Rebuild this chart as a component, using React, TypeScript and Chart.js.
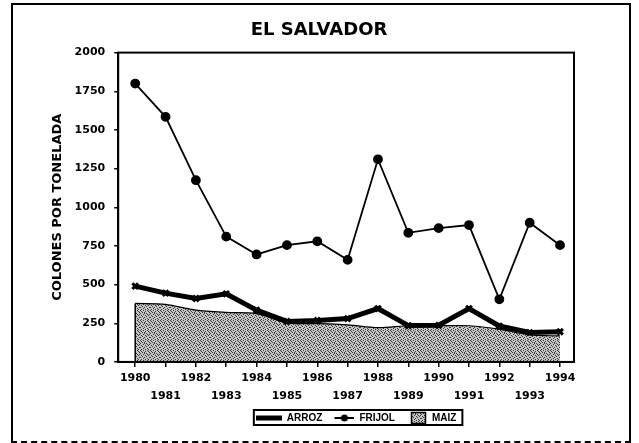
import React, { useEffect, useRef } from 'react';
import { Chart, registerables } from 'chart.js';

Chart.register(...registerables);

const years = [1980, 1981, 1982, 1983, 1984, 1985, 1986, 1987, 1988, 1989, 1990, 1991, 1992, 1993, 1994];
const arroz = [490, 445, 410, 440, 335, 262, 268, 280, 345, 235, 237, 345, 232, 190, 195];
const frijol = [1800, 1585, 1175, 810, 695, 755, 780, 660, 1310, 835, 865, 885, 405, 900, 755];
const maiz = [378, 372, 335, 320, 312, 252, 248, 240, 222, 234, 234, 234, 212, 175, 168];
const seriesNames = ['ARROZ', 'FRIJOL', 'MAIZ'];
const chartTitle = 'EL SALVADOR';
const yTitle = 'COLONES POR TONELADA';

function stippleCanvas(): HTMLCanvasElement {
  const c = document.createElement('canvas');
  c.width = 10;
  c.height = 10;
  const g = c.getContext('2d')!;
  g.fillStyle = '#c4c4c4';
  g.fillRect(0, 0, 10, 10);
  g.fillStyle = '#3a3a3a';
  const dots = [
    [0, 0], [3, 0], [7, 0], [1, 1], [5, 1], [8, 1], [2, 2], [4, 2], [9, 2],
    [0, 3], [6, 3], [3, 4], [7, 4], [1, 5], [5, 5], [8, 5], [2, 6], [6, 6],
    [0, 7], [4, 7], [9, 7], [3, 8], [7, 8], [1, 9], [5, 9], [8, 9], [9, 4], [4, 3],
  ];
  dots.forEach(([x, y]) => g.fillRect(x, y, 1, 1));
  return c;
}

function legendSymbol(kind: string, pattern: CanvasPattern | null): HTMLCanvasElement {
  const c = document.createElement('canvas');
  c.width = 26;
  c.height = 14;
  const g = c.getContext('2d')!;
  g.strokeStyle = '#000';
  g.fillStyle = '#000';
  if (kind === 'ARROZ') {
    g.lineWidth = 5;
    g.beginPath();
    g.moveTo(0, 7);
    g.lineTo(26, 7);
    g.stroke();
  } else if (kind === 'FRIJOL') {
    g.lineWidth = 2;
    g.beginPath();
    g.moveTo(6, 7);
    g.lineTo(26, 7);
    g.stroke();
    g.beginPath();
    g.arc(16, 7, 3.5, 0, Math.PI * 2);
    g.fill();
  } else {
    if (pattern) g.fillStyle = pattern;
    g.fillRect(10, 1, 15, 12);
    g.lineWidth = 1.5;
    g.strokeRect(10.5, 1.5, 14, 11);
  }
  return c;
}

export default function App() {
  const ref = useRef<HTMLCanvasElement | null>(null);

  useEffect(() => {
    const canvas = ref.current;
    if (!canvas) return;
    const ctx = canvas.getContext('2d')!;
    const pattern = ctx.createPattern(stippleCanvas(), 'repeat');
    const symbols = seriesNames.map((n) => legendSymbol(n, pattern));

    const framePlugin = {
      id: 'frame',
      afterDatasetsDraw(chart: any) {
        const c = chart.ctx;
        const meta = chart.getDatasetMeta(2);
        const first = meta.data[0];
        const y0 = chart.scales.y.getPixelForValue(0);
        c.save();
        c.strokeStyle = '#000';
        c.lineWidth = 1.5;
        c.beginPath();
        c.moveTo(first.x, first.y);
        c.lineTo(first.x, y0);
        c.stroke();
        c.restore();
      },
      afterDraw(chart: any) {
        const c = chart.ctx;
        const a = chart.chartArea;
        c.save();
        c.strokeStyle = '#000';
        c.lineWidth = 2;
        c.strokeRect(a.left, a.top, a.right - a.left, a.bottom - a.top);
        const lg = chart.legend;
        if (lg && lg.legendHitBoxes && lg.legendHitBoxes.length) {
          const hb = lg.legendHitBoxes;
          let l = Infinity, r = -Infinity, t = Infinity, b = -Infinity;
          hb.forEach((h: any) => {
            l = Math.min(l, h.left);
            r = Math.max(r, h.left + h.width);
            t = Math.min(t, h.top);
            b = Math.max(b, h.top + h.height);
          });
          c.lineWidth = 2;
          c.strokeRect(l - 2, t - 3, r - l + 8, b - t + 5);
        }
        c.restore();
      },
    };

    const shiftPlugin = {
      id: 'blockShift',
      afterLayout(chart: any) {
        const lg = chart.legend;
        if (lg) {
          lg.left += 10;
          lg.right += 10;
        }
        const tb = chart.titleBlock;
        if (tb) {
          tb.left += 9;
          tb.right += 9;
        }
      },
    };

    const tickFont = { family: 'DejaVu Sans', size: 11, weight: 'bold' as const };

    const chart = new Chart(canvas, {
      type: 'line',
      data: {
        datasets: [
          {
            label: seriesNames[0],
            data: years.map((x, i) => ({ x, y: arroz[i] })),
            borderColor: '#000',
            backgroundColor: '#000',
            borderWidth: 5,
            pointStyle: 'crossRot',
            pointRadius: 4,
            pointBorderWidth: 3,
            pointBorderColor: '#000',
            fill: false,
            tension: 0,
          },
          {
            label: seriesNames[1],
            data: years.map((x, i) => ({ x, y: frijol[i] })),
            borderColor: '#000',
            backgroundColor: '#000',
            borderWidth: 1.8,
            pointStyle: 'circle',
            pointRadius: 4,
            pointBackgroundColor: '#000',
            pointBorderColor: '#000',
            fill: false,
            tension: 0,
          },
          {
            label: seriesNames[2],
            data: years.map((x, i) => ({ x, y: maiz[i] })),
            borderColor: '#000',
            backgroundColor: pattern || '#aaa',
            borderWidth: 1.2,
            pointRadius: 0,
            fill: 'origin',
            tension: 0.3,
          },
        ],
      },
      options: {
        responsive: false,
        animation: false,
        devicePixelRatio: 1,
        layout: { padding: { left: 46, right: 65, top: 0, bottom: 10 } },
        plugins: {
          tooltip: { enabled: false },
          title: {
            display: true,
            text: chartTitle,
            color: '#000',
            font: { family: 'DejaVu Sans', size: 18, weight: 'bold' },
            padding: { top: 20, bottom: 11 },
          },
          legend: {
            display: true,
            position: 'bottom',
            fullSize: false,
            labels: {
              usePointStyle: true,
              pointStyleWidth: 26,
              padding: 6,
              color: '#000',
              font: { family: 'Liberation Sans', size: 10, weight: 'bold' },
              generateLabels: () =>
                seriesNames.map((n, i) => ({
                  text: n,
                  pointStyle: symbols[i],
                  fillStyle: '#000',
                  strokeStyle: '#000',
                  lineWidth: 0,
                  hidden: false,
                  datasetIndex: i,
                  fontColor: '#000',
                })),
            },
          },
        },
        scales: {
          x: {
            type: 'linear',
            min: 1979.44,
            max: 1994.46,
            border: { display: true, color: '#000', width: 2 },
            grid: { drawOnChartArea: false, drawTicks: true, tickLength: 5, color: '#000', lineWidth: 1.5 },
            afterBuildTicks: (axis: any) => {
              axis.ticks = years.map((v) => ({ value: v }));
            },
            ticks: {
              autoSkip: false,
              maxRotation: 0,
              minRotation: 0,
              padding: 2,
              color: '#000',
              font: { ...tickFont, lineHeight: 1.64 },
              callback: (v: any) => (Number(v) % 2 === 0 ? [String(v), ''] : ['', String(v)]),
            },
          },
          y: {
            type: 'linear',
            min: 0,
            max: 2000,
            border: { display: true, color: '#000', width: 2 },
            grid: { drawOnChartArea: false, drawTicks: true, tickLength: 4, color: '#000', lineWidth: 1.5 },
            ticks: {
              stepSize: 250,
              padding: 9,
              color: '#000',
              font: tickFont,
              callback: (v: any) => String(v),
            },
            title: {
              display: true,
              text: yTitle,
              color: '#000',
              font: { family: 'DejaVu Sans', size: 13, weight: 'bold' },
              padding: { top: 4, bottom: 0 },
            },
          },
        },
      },
      plugins: [framePlugin, shiftPlugin],
    } as any);

    return () => chart.destroy();
  }, []);

  return (
    <div style={{ position: 'fixed', left: 0, top: 0, width: 639, height: 443, background: '#fff', overflow: 'hidden' }}>
      <div
        style={{
          position: 'absolute',
          left: 11,
          top: 3,
          width: 616,
          height: 436,
          borderLeft: '2px solid #000',
          borderTop: '2px solid #000',
          borderRight: '2px solid #000',
          borderBottom: '2px dashed #000',
        }}
      />
      <canvas ref={ref} width={639} height={443} style={{ position: 'absolute', left: 0, top: 0, display: 'block' }} />
    </div>
  );
}
